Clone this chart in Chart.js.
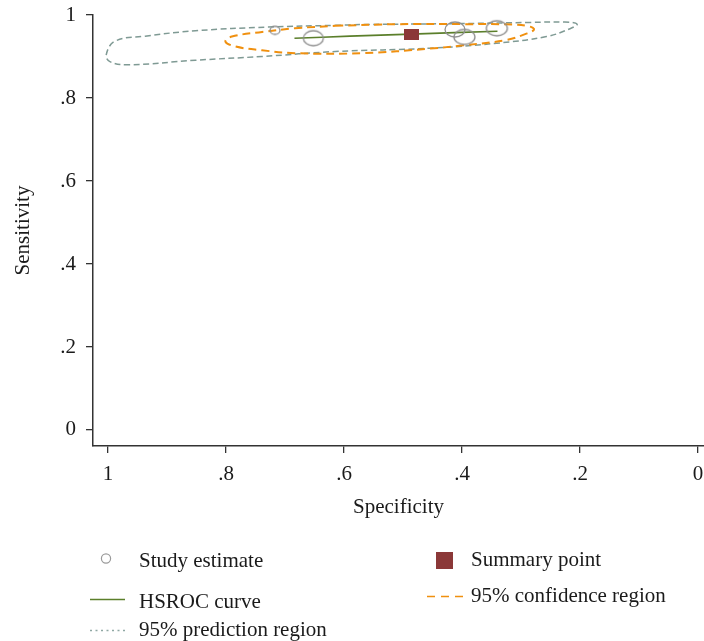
<!DOCTYPE html>
<html>
<head>
<meta charset="utf-8">
<script src="https://cdn.jsdelivr.net/npm/chart.js@4.4.1/dist/chart.umd.min.js"></script>
<style>
  body { margin: 0; background: #fff; }
  #wrap { position: relative; width: 704px; height: 641px; }
  #chart { position: absolute; left: 0; top: 0; }
  .lg { position: absolute; font: 21px "Liberation Serif", serif; line-height: 21px; color: #1a1a1a; white-space: nowrap; }
  #keys { position: absolute; left: 0; top: 0; }
</style>
</head>
<body>
<div id="wrap">
  <canvas id="chart" width="704" height="641"></canvas>
  <svg id="keys" width="704" height="641">
    <circle cx="106" cy="558.5" r="4.6" fill="none" stroke="#9a9a9a" stroke-width="1.2"/>
    <line x1="90" y1="599.5" x2="125" y2="599.5" stroke="#5b7f2b" stroke-width="1.6"/>
    <line x1="90" y1="630.5" x2="125" y2="630.5" stroke="#8fa8a4" stroke-width="1.3" stroke-dasharray="2 3.5"/>
    <rect x="436" y="552" width="17" height="17" fill="#8b3838"/>
    <line x1="427" y1="596.5" x2="463" y2="596.5" stroke="#f0900f" stroke-width="1.6" stroke-dasharray="8 6"/>
  </svg>
  <div class="lg" style="left:139px;top:550px">Study estimate</div>
  <div class="lg" style="left:139px;top:591px">HSROC curve</div>
  <div class="lg" style="left:139px;top:619px">95% prediction region</div>
  <div class="lg" style="left:471px;top:549px">Summary point</div>
  <div class="lg" style="left:471px;top:585px">95% confidence region</div>
</div>
<script>
// axis ticks
const tickVals = [0, 0.2, 0.4, 0.6, 0.8, 1];
const tickText = ['0', '.2', '.4', '.6', '.8', '1'];

// study estimates (specificity, sensitivity)
const studySpec = [0.717, 0.652, 0.412, 0.396, 0.341];
const studySens = [0.963, 0.944, 0.965, 0.947, 0.968];

// summary operating point
const summarySpec = [0.486];
const summarySens = [0.954];

// HSROC curve
const hsrocSpec = [0.684, 0.590, 0.486, 0.340];
const hsrocSens = [0.944, 0.949, 0.954, 0.961];

// 95% confidence region outline
const confSpec = [0.615, 0.505, 0.398, 0.314, 0.285, 0.278, 0.291, 0.324, 0.398, 0.454, 0.568, 0.683, 0.739, 0.784, 0.801, 0.790, 0.739, 0.683, 0.615];
const confSens = [0.974, 0.978, 0.978, 0.977, 0.972, 0.965, 0.955, 0.940, 0.927, 0.919, 0.908, 0.908, 0.915, 0.924, 0.936, 0.948, 0.959, 0.968, 0.974];

// 95% prediction region outline
const predSpec = [0.615, 0.568, 0.420, 0.285, 0.226, 0.205, 0.217, 0.257, 0.341, 0.454, 0.615, 0.739, 0.852, 0.966, 0.996, 1.003, 0.988, 0.937, 0.852, 0.729, 0.615];
const predSens = [0.975, 0.977, 0.979, 0.982, 0.983, 0.978, 0.967, 0.948, 0.932, 0.920, 0.912, 0.900, 0.891, 0.880, 0.887, 0.904, 0.937, 0.949, 0.962, 0.971, 0.975];

function pts(xs, ys) {
    return xs.map((x, i) => ({ x: x, y: ys[i] }));
}

// hollow ellipse marker (the study circles are a bit wider than tall)
function ring(rx, ry) {
    const c = document.createElement('canvas');
    c.width = Math.ceil(rx * 2 + 4);
    c.height = Math.ceil(ry * 2 + 4);
    const g = c.getContext('2d');
    g.strokeStyle = '#8e8e8e';
    g.lineWidth = 1.3;
    g.beginPath();
    g.ellipse(c.width / 2, c.height / 2, rx, ry, 0, 0, Math.PI * 2);
    g.stroke();
    return c;
}

function box(w, h) {
    const c = document.createElement('canvas');
    c.width = w;
    c.height = h;
    const g = c.getContext('2d');
    g.fillStyle = '#8b3838';
    g.fillRect(0, 0, w, h);
    return c;
}

const studyMarkers = [ring(5, 4), ring(10, 7.5), ring(10, 7.5), ring(10.5, 7.5), ring(10.5, 7.5)];

Chart.defaults.font.family = '"Liberation Serif", serif';
Chart.defaults.color = '#1a1a1a';

const tickFont = { family: '"Liberation Serif", serif', size: 21 };

new Chart(document.getElementById('chart'), {
    type: 'scatter',
    data: {
        datasets: [
            {
                label: '95% prediction region',
                data: pts(predSpec, predSens),
                showLine: true,
                borderColor: '#7f9a94',
                borderWidth: 1.5,
                borderDash: [6, 3.5],
                pointRadius: 0,
                tension: 0.4,
                fill: false,
                order: 5
            },
            {
                label: '95% confidence region',
                data: pts(confSpec, confSens),
                showLine: true,
                borderColor: '#f0900f',
                borderWidth: 2,
                borderDash: [8, 5],
                pointRadius: 0,
                tension: 0.4,
                fill: false,
                order: 4
            },
            {
                label: 'HSROC curve',
                data: pts(hsrocSpec, hsrocSens),
                showLine: true,
                borderColor: '#5b7f2b',
                borderWidth: 1.6,
                pointRadius: 0,
                tension: 0.3,
                fill: false,
                order: 3
            },
            {
                label: 'Study estimate',
                data: pts(studySpec, studySens),
                pointStyle: studyMarkers,
                order: 2
            },
            {
                label: 'Summary point',
                data: pts(summarySpec, summarySens),
                pointStyle: box(15, 11),
                order: 1
            }
        ]
    },
    options: {
        responsive: false,
        animation: false,
        layout: { autoPadding: false, padding: { left: 0, right: 0, top: 15, bottom: 120 } },
        plugins: {
            legend: { display: false },
            tooltip: { enabled: false }
        },
        scales: {
            x: {
                type: 'linear',
                reverse: true,
                min: -0.01,
                max: 1.0254,
                afterBuildTicks: (scale) => { scale.ticks = tickVals.map(v => ({ value: v })); },
                afterFit: (scale) => {
                    scale.height = 75;
                    scale.paddingLeft = 0;
                    scale.paddingRight = 0;
                },
                ticks: {
                    font: tickFont,
                    color: '#1a1a1a',
                    padding: 9,
                    maxRotation: 0,
                    callback: (v, i) => tickText[i]
                },
                grid: { display: true, drawOnChartArea: false, drawTicks: true, tickLength: 7, color: '#333', lineWidth: 1.3 },
                border: { display: true, color: '#333', width: 1.5 },
                title: { display: true, text: 'Specificity', font: tickFont, color: '#1a1a1a', padding: { top: 0, bottom: 1.4 } }
            },
            y: {
                type: 'linear',
                min: -0.0386,
                max: 1,
                afterBuildTicks: (scale) => { scale.ticks = tickVals.map(v => ({ value: v })); },
                afterFit: (scale) => {
                    scale.width = 93;
                    scale.paddingTop = 0;
                    scale.paddingBottom = 0;
                },
                ticks: {
                    font: tickFont,
                    color: '#1a1a1a',
                    padding: 10,
                    callback: (v, i) => tickText[i]
                },
                grid: { display: true, drawOnChartArea: false, drawTicks: true, tickLength: 7, color: '#333', lineWidth: 1.3 },
                border: { display: true, color: '#333', width: 1.5 },
                title: { display: true, text: 'Sensitivity', font: tickFont, color: '#1a1a1a', padding: { top: 10.4, bottom: 0 } }
            }
        }
    }
});
</script>
</body>
</html>
